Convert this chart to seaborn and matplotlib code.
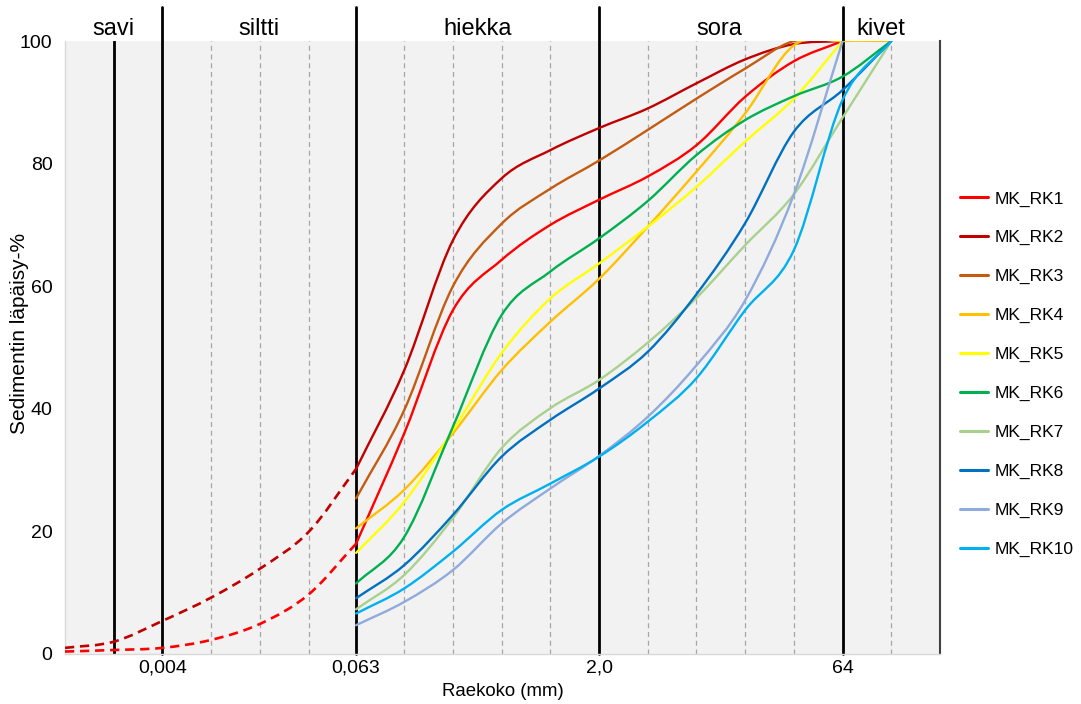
import numpy as np
import pandas as pd
import matplotlib
matplotlib.use("Agg")
import matplotlib.pyplot as plt
from matplotlib.path import Path
from matplotlib.patches import PathPatch
from matplotlib.lines import Line2D
from matplotlib.ticker import FixedLocator, FixedFormatter, NullLocator
import seaborn as sns

# --- grain size distribution data (passing %, by sieve size in mm) ---
sieve_mm = [0.063, 0.125, 0.25, 0.5, 1, 2, 4, 8, 16, 32, 64, 128]

mk_rk1 = [18.0, 36.0, 56.1, 64.3, 70.0, 74.1, 77.9, 83.0, 90.9, 96.7, 100]
mk_rk2 = [30.2, 46.3, 67.5, 77.6, 82.2, 85.8, 89.0, 93.1, 97.0, 99.5, 100]
mk_rk3 = [25.4, 39.8, 60.0, 70.2, 75.9, 80.5, 85.5, 90.6, 95.5, 100, 100]
mk_rk4 = [20.5, 26.8, 36.0, 46.3, 54.2, 61.2, 69.7, 78.7, 88.2, 99.3, 100, 100]
mk_rk5 = [16.5, 24.8, 36.5, 49.1, 58.0, 63.7, 69.7, 76.2, 83.6, 90.6, 100]
mk_rk6 = [11.5, 19.1, 37.1, 55.3, 62.4, 67.8, 73.9, 81.4, 87.1, 91.0, 94.2, 100]
mk_rk7 = [7.3, 12.9, 22.2, 33.6, 40.1, 44.7, 50.8, 58.1, 66.7, 75.0, 87.5, 100]
mk_rk8 = [9.1, 14.5, 22.7, 32.2, 38.2, 43.3, 49.3, 58.7, 70.3, 85.2, 92.0, 100]
mk_rk9 = [4.7, 8.5, 13.7, 21.3, 27.0, 32.3, 38.7, 47.1, 57.7, 75.0, 100]
mk_rk10 = [6.6, 10.7, 16.7, 23.5, 27.8, 32.2, 37.9, 45.0, 56.1, 65.9, 90.4, 100]

series_names = ["MK_RK1", "MK_RK2", "MK_RK3", "MK_RK4", "MK_RK5",
                "MK_RK6", "MK_RK7", "MK_RK8", "MK_RK9", "MK_RK10"]
series_values = [mk_rk1, mk_rk2, mk_rk3, mk_rk4, mk_rk5,
                 mk_rk6, mk_rk7, mk_rk8, mk_rk9, mk_rk10]

# estimated fine fraction (below 0.063 mm) for MK_RK1 and MK_RK2
fine_mm = [0.001, 0.002, 0.004, 0.008, 0.016, 0.032, 0.063]
fine_rk1 = [0.4, 0.65, 1.0, 2.3, 4.9, 9.7, 18.0]
fine_rk2 = [1.0, 2.0, 5.4, 9.2, 13.9, 19.9, 30.2]

# size classes
class_names = ["savi", "siltti", "hiekka", "sora", "kivet"]
class_label_mm = [0.002, 0.0159, 0.355, 11.0, 110]
class_bounds_mm = [0.004, 0.063, 2.0, 64]
clay_bound_mm = 0.002
minor_grid_mm = [0.002, 0.008, 0.016, 0.032, 0.125, 0.25, 0.5, 1,
                 4, 8, 16, 32, 128]
tick_mm = [0.004, 0.063, 2.0, 64]
tick_labels = ["0,004", "0,063", "2,0", "64"]
y_ticks = [0, 20, 40, 60, 80, 100]

colors = sns.color_palette(["#FF0000", "#C00000", "#C55A11", "#FFC000",
                            "#FFFF00", "#00B050", "#A9D18E", "#0070C0",
                            "#8FAADC", "#00B0F0"])

sns.set_theme(style="white", rc={
    "axes.facecolor": "#F2F2F2",
    "figure.facecolor": "white",
})
plt.rcParams["font.family"] = ["Liberation Sans", "DejaVu Sans"]
plt.rcParams["text.color"] = "black"


def smooth_path(x_mm, y):
    """Smoothed line through the points: cubic Bezier segments with
    Catmull-Rom tangents on the log2 size axis, straight-run end tangents."""
    pts = np.column_stack([np.log2(np.asarray(x_mm, float)),
                           np.asarray(y, float)])
    ext = np.vstack([2 * pts[0] - pts[1], pts, 2 * pts[-1] - pts[-2]])
    verts = [pts[0]]
    codes = [Path.MOVETO]
    for k in range(len(pts) - 1):
        p0, p1, p2, p3 = ext[k], ext[k + 1], ext[k + 2], ext[k + 3]
        c1 = p1 + (p2 - p0) / 6.0
        c2 = p2 - (p3 - p1) / 6.0
        verts += [c1, c2, p2]
        codes += [Path.CURVE4] * 3
    verts = np.array(verts)
    verts[:, 0] = 2.0 ** verts[:, 0]
    return Path(verts, codes)


fig = plt.figure(figsize=(10.81, 7.04), dpi=100)
ax = fig.add_axes([65 / 1081, 1 - 654 / 704, 875 / 1081, 613 / 704])

# long-form table of the measured curves
df = pd.DataFrame([
    {"sample": name, "size_mm": sieve_mm[i], "passing": v}
    for name, vals in zip(series_names, series_values)
    for i, v in enumerate(vals)
])

ax.set_xscale("log", base=2)
ax.set_xlim(0.001, 256)
ax.set_ylim(0, 100)

# grid: dashed minor lines and solid class boundaries
for g in minor_grid_mm:
    ax.axvline(g, color="#A6A6A6", lw=0.9, ls=(0, (4, 3)), zorder=1)
ax.axvline(clay_bound_mm, color="black", lw=2.0, zorder=2)
for b in class_bounds_mm:
    ax.axvline(b, ymin=0, ymax=1.0555, color="black", lw=2.0,
               clip_on=False, zorder=2)

# measured curves
for name, col in zip(series_names, colors):
    sub = df[df["sample"] == name]
    patch = PathPatch(smooth_path(sub["size_mm"], sub["passing"]),
                      fill=False, edgecolor=col, lw=1.7, zorder=4,
                      capstyle="round", joinstyle="round")
    ax.add_patch(patch)

# estimated fine fraction, dashed
for vals, col in [(fine_rk1, colors[0]), (fine_rk2, colors[1])]:
    patch = PathPatch(smooth_path(fine_mm, vals), fill=False, edgecolor=col,
                      lw=1.9, ls=(0, (3.5, 2.2)), zorder=4)
    ax.add_patch(patch)

# class labels above the plot
for name, xm in zip(class_names, class_label_mm):
    ax.text(xm, 1.009, name, transform=ax.get_xaxis_transform(),
            ha="center", va="baseline", fontsize=17, color="black")

ax.xaxis.set_major_locator(FixedLocator(tick_mm))
ax.xaxis.set_major_formatter(FixedFormatter(tick_labels))
ax.xaxis.set_minor_locator(NullLocator())
ax.set_yticks(y_ticks)
ax.tick_params(axis="x", length=0, pad=4, labelsize=14, colors="black")
ax.tick_params(axis="y", length=0, pad=9, labelsize=14, colors="black")

ax.set_xlabel("Raekoko (mm)", fontsize=13.4, labelpad=5, color="black")
ax.set_ylabel("Sedimentin läpäisy-%", fontsize=15, color="black",
              va="center")
ax.yaxis.set_label_coords((20 - 65) / 875, (654 - 333) / 613)

for side in ["left", "bottom"]:
    ax.spines[side].set_color("#D9D9D9")
    ax.spines[side].set_linewidth(1.0)
ax.spines["top"].set_visible(False)
ax.spines["right"].set_color("#404040")
ax.spines["right"].set_linewidth(1.5)

handles = [Line2D([], [], color=c, lw=2.2) for c in colors]
fig.legend(handles, series_names, loc="center left",
           bbox_to_anchor=(960 / 1081, 1 - 374 / 704), frameon=False,
           fontsize=12.5, handlelength=1.6, handletextpad=0.4,
           labelspacing=1.36, borderpad=0, borderaxespad=0)

fig.savefig("out.png", dpi=100)
